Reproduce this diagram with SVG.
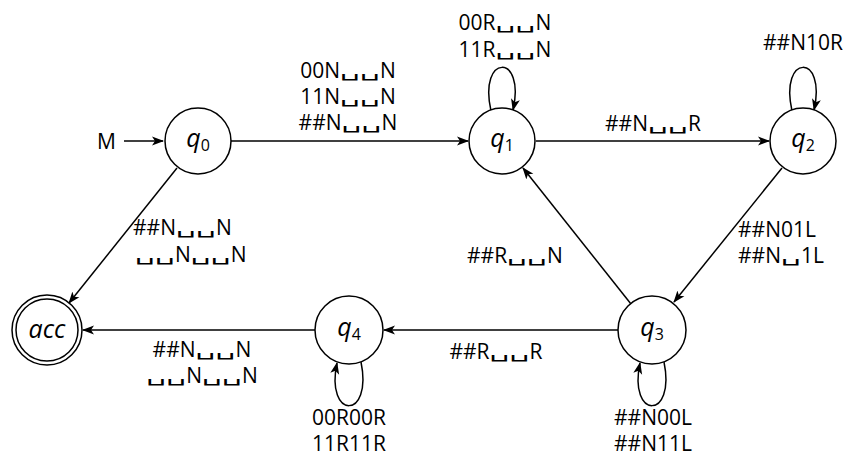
<svg xmlns="http://www.w3.org/2000/svg" width="847" height="457" viewBox="0 0 847 457">
  <style>
    .state { fill: #ffffff; stroke: #000000; stroke-width: 1.5; }
    .edge { fill: none; stroke: #000000; stroke-width: 1.5; marker-end: url(#arrow); }
    .lbl { font-family: "Open Sans", "DejaVu Sans", sans-serif; font-size: 21px; fill: #000000; }
    .b { font-family: "DejaVu Sans", sans-serif; font-size: 20px; baseline-shift: 2px; }
    .name { font-family: "Open Sans", "DejaVu Sans", sans-serif; font-size: 25px; font-style: italic; fill: #000000; }
    .sub { font-size: 16px; font-style: normal; }
  </style>
  <defs>
    <marker id="arrow" viewBox="0 0 12 10" refX="11" refY="5" markerWidth="12" markerHeight="10" markerUnits="userSpaceOnUse" orient="auto">
      <path d="M0,0.5 L12,5 L0,9.5 L3,5 z" fill="#000000"/>
    </marker>
  </defs>

  <!-- transitions -->
  <g id="connectors">
    <path class="edge" d="M124,141 L163,141"/>
    <path class="edge" d="M231,141 L468,141"/>
    <path class="edge" d="M536,141 L769,141"/>
    <path class="edge" d="M782,168 L674,302"/>
    <path class="edge" d="M631,304 L523,168"/>
    <path class="edge" d="M618,330 L384,330"/>
    <path class="edge" d="M315,330 L83,330"/>
    <path class="edge" d="M177,168 L69,303"/>
    <!-- self loops -->
    <path class="edge" d="M491,111 C478,53 526,53 513,110"/>
    <path class="edge" d="M792,111 C779,53 827,53 814,110"/>
    <path class="edge" d="M664,362 C676,420 628,420 640,363"/>
    <path class="edge" d="M361,362 C373,420 325,420 337,363"/>
  </g>

  <!-- transition labels; blank symbols are widened with textLength -->
  <g id="labels">
    <text class="lbl" x="97" y="149">M</text>
    <text class="lbl" x="348" y="78" text-anchor="middle">00N<tspan class="b" textLength="40" lengthAdjust="spacingAndGlyphs">␣␣</tspan>N</text>
    <text class="lbl" x="348" y="104" text-anchor="middle">11N<tspan class="b" textLength="40" lengthAdjust="spacingAndGlyphs">␣␣</tspan>N</text>
    <text class="lbl" x="348" y="130" text-anchor="middle">##N<tspan class="b" textLength="40" lengthAdjust="spacingAndGlyphs">␣␣</tspan>N</text>
    <text class="lbl" x="505" y="30" text-anchor="middle">00R<tspan class="b" textLength="40" lengthAdjust="spacingAndGlyphs">␣␣</tspan>N</text>
    <text class="lbl" x="505" y="57" text-anchor="middle">11R<tspan class="b" textLength="40" lengthAdjust="spacingAndGlyphs">␣␣</tspan>N</text>
    <text class="lbl" x="653" y="131" text-anchor="middle">##N<tspan class="b" textLength="40" lengthAdjust="spacingAndGlyphs">␣␣</tspan>R</text>
    <text class="lbl" x="803" y="50" text-anchor="middle">##N10R</text>
    <text class="lbl" x="738" y="237">##N01L</text>
    <text class="lbl" x="738" y="263">##N<tspan class="b" textLength="20" lengthAdjust="spacingAndGlyphs">␣</tspan>1L</text>
    <text class="lbl" x="467" y="263">##R<tspan class="b" textLength="40" lengthAdjust="spacingAndGlyphs">␣␣</tspan>N</text>
    <text class="lbl" x="133" y="235">##N<tspan class="b" textLength="40" lengthAdjust="spacingAndGlyphs">␣␣</tspan>N</text>
    <text class="lbl" x="135" y="262"><tspan class="b" textLength="40" lengthAdjust="spacingAndGlyphs">␣␣</tspan>N<tspan class="b" textLength="40" lengthAdjust="spacingAndGlyphs">␣␣</tspan>N</text>
    <text class="lbl" x="496" y="359" text-anchor="middle">##R<tspan class="b" textLength="40" lengthAdjust="spacingAndGlyphs">␣␣</tspan>R</text>
    <text class="lbl" x="202" y="357" text-anchor="middle">##N<tspan class="b" textLength="40" lengthAdjust="spacingAndGlyphs">␣␣</tspan>N</text>
    <text class="lbl" x="202" y="383" text-anchor="middle"><tspan class="b" textLength="40" lengthAdjust="spacingAndGlyphs">␣␣</tspan>N<tspan class="b" textLength="40" lengthAdjust="spacingAndGlyphs">␣␣</tspan>N</text>
    <text class="lbl" x="653" y="425" text-anchor="middle">##N00L</text>
    <text class="lbl" x="653" y="451" text-anchor="middle">##N11L</text>
    <text class="lbl" x="349" y="425" text-anchor="middle">00R00R</text>
    <text class="lbl" x="349" y="451" text-anchor="middle">11R11R</text>
  </g>

  <!-- states -->
  <g id="q0">
    <circle class="state" cx="198" cy="141" r="33"/>
    <text class="name" x="198" y="147" text-anchor="middle">q<tspan class="sub" dy="4">0</tspan></text>
  </g>
  <g id="q1">
    <circle class="state" cx="502" cy="141" r="33"/>
    <text class="name" x="502" y="147" text-anchor="middle">q<tspan class="sub" dy="4">1</tspan></text>
  </g>
  <g id="q2">
    <circle class="state" cx="803" cy="141" r="33"/>
    <text class="name" x="803" y="147" text-anchor="middle">q<tspan class="sub" dy="4">2</tspan></text>
  </g>
  <g id="q3">
    <circle class="state" cx="652" cy="330" r="34"/>
    <text class="name" x="652" y="336" text-anchor="middle">q<tspan class="sub" dy="4">3</tspan></text>
  </g>
  <g id="q4">
    <circle class="state" cx="349" cy="330" r="34"/>
    <text class="name" x="349" y="336" text-anchor="middle">q<tspan class="sub" dy="4">4</tspan></text>
  </g>
  <g id="acc">
    <circle class="state" cx="47" cy="330" r="35"/>
    <circle class="state" cx="47" cy="330" r="31"/>
    <text class="name" x="47" y="338" text-anchor="middle">acc</text>
  </g>
</svg>
